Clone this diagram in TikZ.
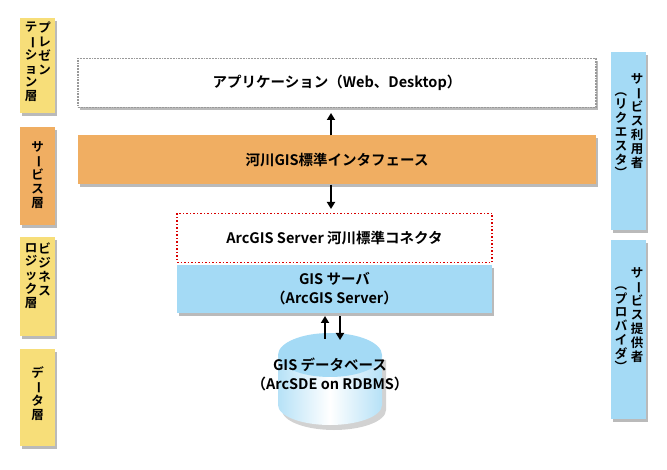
\documentclass[tikz,border=0pt]{standalone}
\usepackage{fontspec}
\setmainfont{Noto Sans CJK JP}[BoldFont={Noto Sans CJK JP Bold}]
\usetikzlibrary{shadows,arrows.meta}
\definecolor{ylw}{HTML}{F7DE79}
\definecolor{org}{HTML}{F0AE62}
\definecolor{lblue}{HTML}{A4DAF5}
\newcommand{\vbar}{\rotatebox[origin=c]{-90}{ー}}
\newcommand{\vlp}{\rotatebox[origin=c]{-90}{（}}
\newcommand{\vrp}{\rotatebox[origin=c]{-90}{）}}
\begin{document}
\begin{tikzpicture}[x=1pt,y=-1pt,font=\bfseries,
  sh/.style={drop shadow={shadow xshift=2pt,shadow yshift=-3pt,fill=black!45,opacity=.6}},
  lay/.style={draw=none,fill=ylw,sh,minimum width=35pt,inner sep=0},
  side/.style={draw=none,fill=lblue,sh,minimum width=35pt,inner sep=0},
  vt/.style={font=\bfseries\fontsize{12.5}{13.8}\selectfont,inner sep=0,anchor=north,align=center},
  box/.style={minimum width=518pt,minimum height=49pt,inner sep=0,font=\bfseries\fontsize{14.5}{17}\selectfont},
  arr/.style={-{Triangle[length=7pt,width=8pt]},line width=2.2pt}]
\useasboundingbox (0,0) rectangle (667,470);
% left layer boxes
\node[lay,minimum height=95pt] (L1) at (37.5,65.5) {};
\node[lay,fill=org,minimum height=98pt] (L2) at (37.5,176) {};
\node[lay,minimum height=99pt] (L3) at (37.5,286.5) {};
\node[lay,minimum height=97pt] (L4) at (37.5,397.5) {};
\node[vt] (t1a) at (44.5,22) {プ\\レ\\ゼ\\ン};
\node[vt] (t1b) at (31,22) {テ\\\vbar\\シ\\ョ\\ン\\層};
\node[vt] (t2) at (37.5,141) {サ\\\vbar\\ビ\\ス\\層};
\node[vt] (t3a) at (44.5,243) {ビ\\ジ\\ネ\\ス};
\node[vt] (t3b) at (31,243) {ロ\\ジ\\ッ\\ク\\層};
\node[vt] (t4) at (37.5,366) {デ\\\vbar\\タ\\層};
% right side boxes
\node[side,minimum height=178pt] (R1) at (628.5,141) {};
\node[side,minimum height=179pt] (R2) at (628.5,329.5) {};
\node[vt] (r1a) at (637,73) {サ\\\vbar\\ビ\\ス\\利\\用\\者};
\node[vt] (r1b) at (621,84) {\vlp\\リ\\ク\\エ\\ス\\タ\\\vrp};
\node[vt] (r2a) at (637,267) {サ\\\vbar\\ビ\\ス\\提\\供\\者};
\node[vt] (r2b) at (621,278) {\vlp\\プ\\ロ\\バ\\イ\\ダ\\\vrp};
% main boxes
\node[box,draw=black!40,densely dotted,line width=1.8pt,fill=white,sh] (app) at (337,83) {アプリケーション（Web、Desktop）};
\node[box,fill=org,sh] (ifc) at (337,160) {河川GIS標準インタフェース};
\node[box,minimum width=315pt,draw=red!85!black,dotted,line width=1.5pt,fill=white] (con) at (334.5,238) {ArcGIS Server 河川標準コネクタ};
\node[box,minimum width=315pt,minimum height=48pt,fill=lblue,sh,align=center,font=\bfseries\fontsize{14.5}{19}\selectfont] (srv) at (334.5,289) {GIS サーバ\\（ArcGIS Server）};
% cylinder
\fill[black!35,opacity=.5] (282,360) -- (282,410) arc[start angle=180,end angle=0,x radius=52,y radius=20] -- (386,360) -- cycle;
\shade[left color=lblue!80,right color=lblue!80,middle color=white] (278,355) -- (278,405) arc[start angle=180,end angle=0,x radius=52,y radius=20] -- (382,355) -- cycle;
\fill[lblue] (330,355) ellipse[x radius=52,y radius=22];
\node[align=center,inner sep=0,font=\bfseries\fontsize{14.5}{19}\selectfont] (db) at (330,374) {GIS データベース\\（ArcSDE on RDBMS）};
\coordinate (dbtop) at (330,333);
% arrows
\draw[arr] (ifc.north -| 331,0) -- (331,113);
\draw[arr] (ifc.south -| 331,0) -- (331,209);
\draw[arr] (dbtop -| 325,0) ++(0,6) -- (325,316);
\draw[arr] (srv.south -| 340,0) ++(0,3) -- (340,340);
\end{tikzpicture}
\end{document}
